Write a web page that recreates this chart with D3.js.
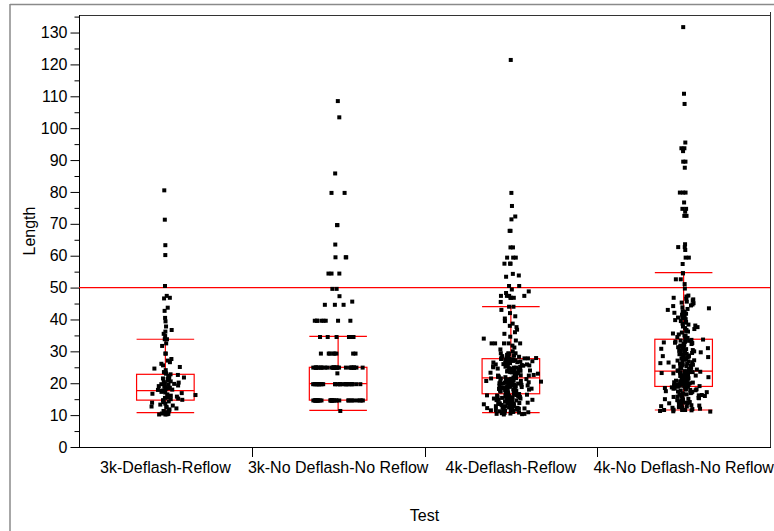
<!DOCTYPE html>
<html>
<head>
<meta charset="utf-8">
<script src="https://cdn.jsdelivr.net/npm/d3@7"></script>
<style>
  html, body { margin: 0; padding: 0; background: #fff; }
  svg { display: block; font-family: "Liberation Sans", Arial, sans-serif; }
</style>
</head>
<body>
<svg id="chart" width="774" height="531"></svg>
<script>
// ---------------- data ----------------
const categories = ["3k-Deflash-Reflow", "3k-No Deflash-No Reflow", "4k-Deflash-Reflow", "4k-No Deflash-No Reflow"];

const lengths3kDeflash = [
  80.5, 71.3, 63.3, 60.2, 50.5, 47.4, 46.8, 46.6, 43.7, 42.7, 40.5, 39.4, 37.8, 36.7, 36.2, 35.5, 34.8,
  33.8, 33.8, 32.5, 31.7, 29.3, 29.3, 27.6, 27.1, 26.6, 26.1, 25.6, 25.1, 24.6, 24.1, 23.5, 23.3, 23.0,
  22.8, 22.6, 22.3, 22.0, 21.8, 21.5, 21.3, 21.1, 20.8, 20.6, 20.4, 20.2, 20.0, 19.8, 19.7, 19.5, 19.3,
  19.1, 18.9, 18.8, 18.6, 18.4, 18.2, 18.0, 17.9, 17.7, 17.5, 17.3, 17.1, 16.9, 16.7, 16.5, 16.3, 16.1,
  16.0, 15.8, 15.6, 15.4, 15.2, 15.0, 14.8, 14.7, 14.5, 14.3, 14.1, 13.9, 13.6, 13.3, 13.0, 12.7, 12.6,
  12.4, 12.1, 11.8, 11.5, 11.3, 11.1, 10.9, 10.7, 10.5, 10.4, 10.3, 10.3, 10.2, 10.2
];

const lengths3kNoDeflash = [
  108.5, 103.4, 85.8, 79.7, 79.7, 69.6, 69.6, 63.5, 59.5, 59.5, 59.5, 54.4, 54.4, 54.4, 49.6, 49.6, 47.3,
  45.6, 44.6, 44.6, 44.6,
  39.6, 39.6, 39.6, 39.6, 39.6, 39.6, 39.6, 39.6,
  34.5, 34.5, 34.5, 34.5, 34.5, 34.5, 34.5,
  29.3, 29.3, 29.3, 29.3, 29.3, 29.3, 29.3, 29.3,
  24.9, 24.9, 24.9, 24.9, 24.9, 24.9, 24.9, 24.9, 24.9, 24.9, 24.9, 24.9, 24.9, 24.9, 24.9, 24.9,
  24.9, 24.9, 24.9, 24.9, 24.9, 24.9, 24.9, 24.9, 24.9, 24.9, 24.9, 24.9, 24.9, 24.9,
  23.1,
  19.7, 19.7, 19.7, 19.7, 19.7, 19.7, 19.7, 19.7, 19.7, 19.7, 19.7, 19.7, 19.7, 19.7, 19.7, 19.7,
  19.7, 19.7, 19.7, 19.7, 19.7, 19.7, 19.7, 19.7, 19.7, 19.7, 19.7, 19.7,
  14.6, 14.6, 14.6, 14.6, 14.6, 14.6, 14.6, 14.6, 14.6, 14.6, 14.6, 14.6, 14.6, 14.6, 14.6, 14.6,
  14.6, 14.6, 14.6, 14.6, 14.6, 14.6, 14.6, 14.6, 14.6, 14.6, 14.6, 14.6, 14.6, 14.6,
  11.3
];

const lengths4kDeflash = [
  121.4, 79.7, 75.6, 72.3, 71.4, 67.8, 67.8, 62.6, 62.6, 59.4, 59.4, 59.4, 57.5, 57.5, 57.5, 54.3, 53.8,
  53.4, 50.5, 50.5, 49.4, 48.8, 48.3, 47.4, 47.4, 47.4, 47.4, 46.8, 46.8, 46.8, 45.5, 44.0, 44.0, 43.0,
  42.0, 41.0, 40.3, 39.5, 38.7, 38.0, 37.6, 36.8, 36.0, 35.5, 34.6, 34.0, 33.4, 32.5, 32.5, 32.5, 32.5,
  32.5, 31.8, 31.2, 30.6, 30.0, 29.4, 29.4, 29.4,
  29.2, 29.0, 28.9, 28.7, 28.7, 28.5, 28.3, 28.2, 28.0, 28.0, 27.9, 27.8, 27.8, 27.7,
  27.6, 27.5, 27.5, 27.3, 27.2, 27.2, 27.0, 26.9, 26.8, 26.8, 26.6, 26.5, 26.3, 26.3, 26.2, 26.0, 25.9,
  25.9, 25.7, 25.6, 25.5, 25.5, 25.3, 25.2, 25.1, 25.0, 24.9, 24.9, 24.7, 24.6, 24.5, 24.4, 24.4, 24.2,
  24.1, 24.0, 23.9, 23.8, 23.8, 23.7, 23.5, 23.4, 23.4, 23.3, 23.1, 23.0, 22.9, 22.8, 22.8, 22.6, 22.5,
  22.4, 22.4, 22.3, 22.1, 22.0, 21.9, 21.8, 21.7,
  21.6, 21.5, 21.5, 21.4, 21.3, 21.2, 21.1, 21.1, 21.0, 20.9, 20.8, 20.7, 20.7, 20.6, 20.5, 20.4, 20.3,
  20.3, 20.2, 20.1, 20.0, 19.9, 19.9, 19.8, 19.7, 19.6, 19.5, 19.5, 19.4, 19.3, 19.2, 19.1, 19.1, 19.0,
  18.9, 18.8, 18.7, 18.7, 18.6, 18.5, 18.4, 18.3, 18.3, 18.2, 18.1, 18.0, 17.9, 17.9, 17.8, 17.7, 17.6,
  17.5, 17.5, 17.4, 17.3, 17.2, 17.1, 17.1, 17.0, 16.9, 16.8, 16.8, 16.7,
  16.6, 16.5, 16.4, 16.4, 16.3, 16.2, 16.1, 16.0, 16.0, 15.9, 15.8, 15.7, 15.6, 15.6, 15.5, 15.4, 15.3,
  15.2, 15.2, 15.1, 15.0, 14.9, 14.8, 14.8, 14.7, 14.6, 14.5, 14.4, 14.4, 14.3, 14.2, 14.1, 14.0, 14.0,
  13.9, 13.8, 13.7, 13.6, 13.6, 13.5, 13.4, 13.3, 13.2, 13.2, 13.1, 13.0, 12.9, 12.8, 12.8, 12.7, 12.6,
  12.5, 12.4, 12.4, 12.3, 12.2, 12.1, 12.0, 12.0, 11.9, 11.8, 11.7, 11.6, 11.6, 11.5, 11.4, 11.3, 11.2,
  11.2, 11.1, 11.0, 10.9, 10.8, 10.8, 10.7, 10.6, 10.5, 10.4, 10.4, 10.3, 10.2
];

const lengths4kNoDeflash = [
  131.7, 110.8, 107.6, 95.5, 93.7, 93.7, 92.8, 89.5, 89.5, 87.6, 79.8, 79.8, 79.8, 76.7, 74.7, 74.7,
  73.8, 72.5, 72.5, 63.6, 62.7, 62.7, 61.8, 59.4, 59.4, 57.4, 54.5, 54.5, 52.6, 52.6, 51.1, 49.7,
  47.5, 47.2, 46.8, 46.5, 46.3, 46.0, 45.6, 45.3, 45.1, 44.7, 44.4, 44.2, 43.8, 43.5, 43.3, 43.0, 42.6,
  42.4, 42.1, 41.8, 41.5, 41.2, 40.9, 40.6, 40.4, 40.1, 39.8, 39.5, 39.2, 39.0, 38.7, 38.4, 38.1, 37.8,
  37.6, 37.3, 37.0, 36.7, 36.4, 36.2, 35.9, 35.6, 35.3, 35.0, 34.8, 34.5, 34.2, 34.0,
  33.7, 33.6, 33.4, 33.3, 33.1, 33.0, 32.8, 32.7, 32.6, 32.4, 32.3, 32.1, 32.0, 31.8, 31.7, 31.5, 31.4,
  31.3, 31.1, 31.0, 30.8, 30.7, 30.5, 30.4, 30.2, 30.1, 30.0, 29.8, 29.7, 29.5, 29.4, 29.2, 29.1, 28.9,
  28.8, 28.7, 28.5, 28.4, 28.2, 28.1, 27.9, 27.8, 27.6, 27.5, 27.4, 27.2, 27.1, 26.9, 26.8, 26.6, 26.5,
  26.3, 26.2, 26.1, 25.9, 25.8, 25.6, 25.5, 25.3, 25.2, 25.0, 24.9, 24.8, 24.6, 24.5, 24.3, 24.2, 24.0,
  23.9, 23.8,
  23.7, 23.6, 23.5, 23.5, 23.4, 23.3, 23.2, 23.1, 23.1, 23.0, 22.9, 22.8, 22.7, 22.7, 22.6, 22.5, 22.4,
  22.3, 22.3, 22.2, 22.1, 22.0, 21.9, 21.9, 21.8, 21.7, 21.6, 21.5, 21.5, 21.4, 21.3, 21.2, 21.1, 21.1,
  21.0, 20.9, 20.8, 20.7, 20.7, 20.6, 20.5, 20.4, 20.3, 20.3, 20.2, 20.1, 20.0, 19.9, 19.9, 19.8, 19.7,
  19.6, 19.5, 19.5, 19.4, 19.3, 19.2, 19.1, 19.1, 19.0,
  18.9, 18.8, 18.7, 18.6, 18.5, 18.4, 18.3, 18.2, 18.1, 18.0, 17.9, 17.8, 17.7, 17.5, 17.4, 17.3, 17.2,
  17.0, 16.9, 16.8, 16.7, 16.5, 16.4, 16.3, 16.2, 16.0, 15.9, 15.8, 15.7, 15.5, 15.4, 15.3, 15.1, 15.0,
  14.9, 14.7, 14.6, 14.5, 14.3, 14.2, 14.1, 13.9, 13.8, 13.7, 13.5, 13.4, 13.2, 13.1, 13.0, 12.8, 12.7,
  12.5, 12.4, 12.3, 12.1, 12.0, 11.9, 11.7, 11.6, 11.6, 11.6, 11.5, 11.3, 11.2, 11.1
];

const seriesValues = [lengths3kDeflash, lengths3kNoDeflash, lengths4kDeflash, lengths4kNoDeflash];

// box plot statistics
const boxQ1       = [14.7, 14.7, 16.7, 19.0];
const boxMedian   = [17.7, 19.9, 21.7, 23.8];
const boxQ3       = [22.8, 25.0, 27.7, 33.8];
const whiskerLow  = [10.8, 11.5, 10.8, 11.6];
const whiskerHigh = [33.8, 34.7, 44.0, 54.7];

const referenceLine = 50;
const yMajorTicks = [0, 10, 20, 30, 40, 50, 60, 70, 80, 90, 100, 110, 120, 130];
const yMinorTicks = [5, 15, 25, 35, 45, 55, 65, 75, 85, 95, 105, 115, 125, 135];
const xTitle = "Test";
const yTitle = "Length";

// ---------------- layout ----------------
const W = 774, H = 531;
const plot = { left: 79, right: 770, top: 15, bottom: 447 };
const svg = d3.select("#chart");

const x = d3.scaleBand().domain(categories).range([plot.left, plot.right]).padding(0);
const y = d3.scaleLinear().domain([0, 135.5]).range([plot.bottom, plot.top]);

// outer frame
svg.append("line").attr("x1", 10).attr("x2", W).attr("y1", 4.5).attr("y2", 4.5)
  .attr("stroke", "#8a8a8a").attr("stroke-width", 1.5);
svg.append("line").attr("x1", 10).attr("x2", 10).attr("y1", 4).attr("y2", H)
  .attr("stroke", "#8a8a8a").attr("stroke-width", 1.5);

// plot frame (top, right)
svg.append("line").attr("x1", plot.left).attr("x2", plot.right).attr("y1", plot.top + 0.5).attr("y2", plot.top + 0.5)
  .attr("stroke", "#333").attr("stroke-width", 1);
svg.append("line").attr("x1", plot.right + 0.5).attr("x2", plot.right + 0.5).attr("y1", plot.top - 3).attr("y2", plot.bottom)
  .attr("stroke", "#333").attr("stroke-width", 1);

// y axis
const yAxisMinor = svg.append("g").attr("transform", `translate(${plot.left + 0.5},0)`)
  .call(d3.axisLeft(y).tickValues(yMinorTicks).tickSize(5).tickFormat(""));
const yAxis = svg.append("g").attr("transform", `translate(${plot.left + 0.5},0)`)
  .call(d3.axisLeft(y).tickValues(yMajorTicks).tickSize(9).tickPadding(3));
[yAxisMinor, yAxis].forEach(g => {
  g.select(".domain").attr("d", `M0,${plot.top}V${plot.bottom}`).attr("stroke", "#000");
  g.selectAll(".tick line").attr("stroke", "#000");
});
yAxis.selectAll(".tick text").attr("font-size", 16).attr("fill", "#000")
  .attr("font-family", "Liberation Sans, Arial, sans-serif");

// x axis
const xAxis = svg.append("g").attr("transform", `translate(0,${plot.bottom + 0.5})`)
  .call(d3.axisBottom(x).tickSize(0).tickPadding(14));
xAxis.select(".domain").attr("d", `M${plot.left},0H${plot.right + 1}`).attr("stroke", "#000");
xAxis.selectAll(".tick text").attr("font-size", 16).attr("fill", "#000")
  .attr("font-family", "Liberation Sans, Arial, sans-serif");
// category separator ticks
svg.append("g").selectAll("line").data(categories.slice(1)).join("line")
  .attr("x1", d => Math.round(x(d)) + 0.5).attr("x2", d => Math.round(x(d)) + 0.5)
  .attr("y1", plot.bottom).attr("y2", plot.bottom + 10).attr("stroke", "#000");

// titles
svg.append("text").attr("x", (plot.left + plot.right) / 2).attr("y", 521)
  .attr("text-anchor", "middle").attr("font-size", 16).text(xTitle);
svg.append("text").attr("transform", `translate(35,${(plot.top + plot.bottom) / 2}) rotate(-90)`)
  .attr("text-anchor", "middle").attr("font-size", 16).text(yTitle);

// boxes
const red = "#ff0000";
const bw = x.bandwidth() / 3;
const boxes = svg.append("g").attr("fill", "none").attr("stroke", red).attr("stroke-width", 1.2);
categories.forEach((c, i) => {
  const cx = x(c) + x.bandwidth() / 2;
  const g = boxes.append("g");
  g.append("rect").attr("x", cx - bw / 2).attr("y", y(boxQ3[i])).attr("width", bw)
    .attr("height", y(boxQ1[i]) - y(boxQ3[i]));
  g.append("line").attr("x1", cx - bw / 2).attr("x2", cx + bw / 2).attr("y1", y(boxMedian[i])).attr("y2", y(boxMedian[i]));
  g.append("line").attr("x1", cx).attr("x2", cx).attr("y1", y(boxQ3[i])).attr("y2", y(whiskerHigh[i]));
  g.append("line").attr("x1", cx).attr("x2", cx).attr("y1", y(boxQ1[i])).attr("y2", y(whiskerLow[i]));
  g.append("line").attr("x1", cx - bw / 2).attr("x2", cx + bw / 2).attr("y1", y(whiskerHigh[i])).attr("y2", y(whiskerHigh[i]));
  g.append("line").attr("x1", cx - bw / 2).attr("x2", cx + bw / 2).attr("y1", y(whiskerLow[i])).attr("y2", y(whiskerLow[i]));
});

// reference line
svg.append("line").attr("x1", plot.left).attr("x2", plot.right)
  .attr("y1", y(referenceLine)).attr("y2", y(referenceLine))
  .attr("stroke", red).attr("stroke-width", 1.2);

// points: deterministic density-scaled jitter (hashed point index -> offset),
// concentrated toward the category centre like the original jitter
function scramble(n) {
  n = (n ^ 61) ^ (n >>> 16);
  n = n + (n << 3);
  n = n ^ (n >>> 4);
  n = Math.imul(n, 0x27d4eb2d);
  n = n ^ (n >>> 15);
  return (n >>> 0) / 4294967296;
}
const pts = svg.append("g").attr("fill", "#000");
seriesValues.forEach((vals, gi) => {
  const cx = x(categories[gi]) + x.bandwidth() / 2;
  const isRows = gi === 1;
  vals.forEach((v, i) => {
    const d = vals.filter(w => Math.abs(w - v) <= 1.5).length;
    const hw = Math.min(isRows ? 25 : 31, 3 + 4 * (d - 1));
    const u1 = scramble(gi * 4096 + i * 2 + 7);
    const u2 = scramble(gi * 4096 + i * 2 + 8);
    const off = isRows ? (2 * u1 - 1) * hw
                       : (2 * u1 - 1) * (0.08 + 0.92 * Math.pow(u2, 1.6)) * hw;
    pts.append("rect").attr("x", cx + off - 2).attr("y", y(v) - 2)
      .attr("width", 4).attr("height", 4);
  });
});
</script>
</body>
</html>
